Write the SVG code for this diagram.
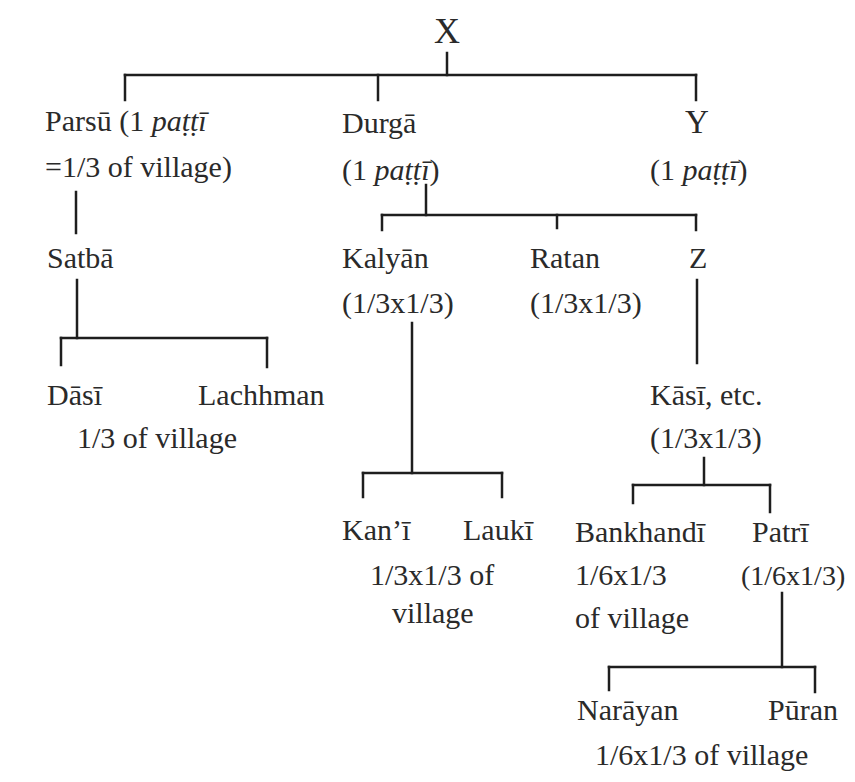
<svg xmlns="http://www.w3.org/2000/svg" width="855" height="782" viewBox="0 0 855 782">
<style>
text{font-family:"Liberation Serif","Times New Roman",serif;font-size:30px;fill:#2a2a2a}
.i{font-style:italic}
.big{font-size:36px}
.c{text-anchor:middle}
#connectors line{stroke:#1e1e1e;stroke-width:2.5;stroke-linecap:square}
</style>
<rect width="855" height="782" fill="#ffffff"/>
<g id="connectors">
<line x1="447" y1="53" x2="447" y2="75"/>
<line x1="125" y1="75" x2="696" y2="75"/>
<line x1="125" y1="75" x2="125" y2="100"/>
<line x1="378" y1="75" x2="378" y2="100"/>
<line x1="696" y1="75" x2="696" y2="100"/>
<line x1="76" y1="192" x2="76" y2="233"/>
<line x1="77" y1="280" x2="77" y2="338"/>
<line x1="61" y1="338" x2="267" y2="338"/>
<line x1="61" y1="338" x2="61" y2="365"/>
<line x1="267" y1="338" x2="267" y2="367"/>
<line x1="426" y1="185" x2="426" y2="215"/>
<line x1="382" y1="215" x2="696" y2="215"/>
<line x1="382" y1="215" x2="382" y2="230"/>
<line x1="557" y1="215" x2="557" y2="228"/>
<line x1="696" y1="215" x2="696" y2="230"/>
<line x1="697" y1="280" x2="697" y2="363"/>
<line x1="412" y1="323" x2="412" y2="473"/>
<line x1="363" y1="473" x2="502" y2="473"/>
<line x1="363" y1="473" x2="363" y2="497"/>
<line x1="502" y1="473" x2="502" y2="497"/>
<line x1="704" y1="458" x2="704" y2="485"/>
<line x1="633" y1="485" x2="770" y2="485"/>
<line x1="633" y1="485" x2="633" y2="503"/>
<line x1="770" y1="485" x2="770" y2="512"/>
<line x1="782" y1="593" x2="782" y2="667"/>
<line x1="609" y1="667" x2="815" y2="667"/>
<line x1="609" y1="667" x2="609" y2="690"/>
<line x1="815" y1="667" x2="815" y2="692"/>
</g>
<g id="node-X"><text class="big c" x="447" y="43">X</text></g>
<g id="node-Parsu"><text x="45" y="131">Parsū (1 <tspan class="i">paṭṭī</tspan></text><text x="45" y="177">=1/3 of village)</text></g>
<g id="node-Durga"><text x="342" y="133">Durgā</text><text x="342" y="180">(1 <tspan class="i">paṭṭī</tspan>)</text></g>
<g id="node-Y"><text class="c" x="697" y="133" style="font-size:33px">Y</text><text x="650" y="180">(1 <tspan class="i">paṭṭī</tspan>)</text></g>
<g id="node-Satba"><text x="47" y="268">Satbā</text></g>
<g id="node-Kalyan"><text x="342" y="268">Kalyān</text><text x="342" y="313">(1/3x1/3)</text></g>
<g id="node-Ratan"><text x="530" y="268">Ratan</text><text x="530" y="313">(1/3x1/3)</text></g>
<g id="node-Z"><text x="689" y="268">Z</text></g>
<g id="node-Dasi"><text x="47" y="405">Dāsī</text></g>
<g id="node-Lachhman"><text x="198" y="405">Lachhman</text></g>
<g id="label-Satba-share"><text x="77" y="448">1/3 of village</text></g>
<g id="node-Kasi"><text x="650" y="405">Kāsī, etc.</text><text x="650" y="448">(1/3x1/3)</text></g>
<g id="node-Kani"><text x="342" y="540">Kan’ī</text></g>
<g id="node-Lauki"><text x="463" y="540">Laukī</text></g>
<g id="label-Kalyan-share"><text x="370" y="585">1/3x1/3 of</text><text x="392" y="623">village</text></g>
<g id="node-Bankhandi"><text x="575" y="542">Bankhandī</text><text x="575" y="585">1/6x1/3</text><text x="575" y="628">of village</text></g>
<g id="node-Patri"><text x="752" y="542">Patrī</text><text x="741" y="585" style="font-size:28px">(1/6x1/3)</text></g>
<g id="node-Narayan"><text x="577" y="720">Narāyan</text></g>
<g id="node-Puran"><text x="768" y="720">Pūran</text></g>
<g id="label-Patri-share"><text x="595" y="765">1/6x1/3 of village</text></g>
</svg>
